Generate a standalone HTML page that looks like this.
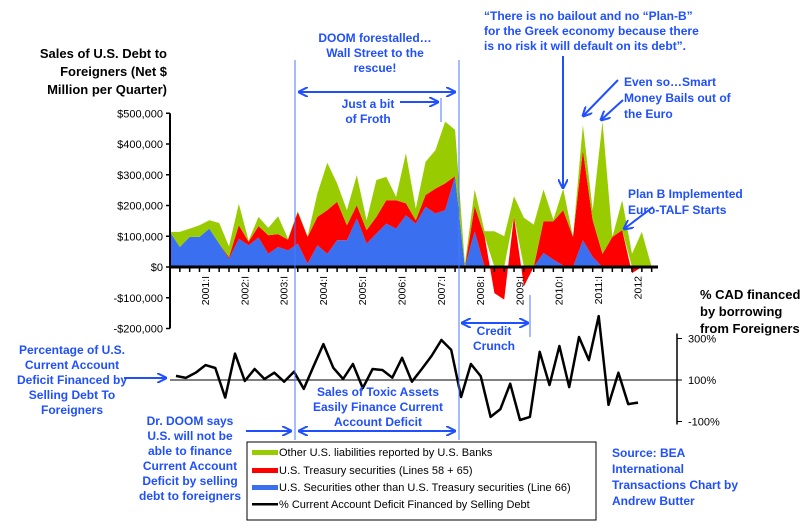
<!DOCTYPE html>
<html><head><meta charset="utf-8"><style>
body{margin:0;background:#fff}
svg{display:block;font-family:"Liberation Sans",Arial,sans-serif}
.an{fill:#1f4fff;font-weight:bold;font-size:12px}
.bk{fill:#000;font-weight:bold;font-size:13px}
.tk{font-size:11px;fill:#000}
</style></head><body>
<svg id="c" width="800" height="531" viewBox="0 0 800 531">
<defs>
<marker id="ah" viewBox="0 0 10 10" refX="9" refY="5" markerWidth="5" markerHeight="5" orient="auto-start-reverse"><path d="M0,0L10,5L0,10" fill="none" stroke="#1f4fff" stroke-width="2"/></marker>
</defs>
<g id="areas"></g>
<g id="axes"></g>
<g id="ann">
<line x1="295" y1="60" x2="295" y2="440" stroke="#4a78ff" stroke-width="1"/>
<line x1="459" y1="60" x2="459" y2="440" stroke="#4a78ff" stroke-width="1"/>
<line x1="530" y1="295" x2="530" y2="337" stroke="#4a78ff" stroke-width="1"/>
<line x1="441" y1="98" x2="441" y2="122" stroke="#4a78ff" stroke-width="1"/>
<text class="an" text-anchor="middle"><tspan x="375" y="42">DOOM forestalled…</tspan><tspan x="375" y="57">Wall Street to the</tspan><tspan x="375" y="72">rescue!</tspan></text>
<line x1="299" y1="92" x2="455" y2="92" stroke="#1f4fff" stroke-width="2" marker-start="url(#ah)" marker-end="url(#ah)"/>
<text class="an" text-anchor="middle"><tspan x="368" y="108">Just a bit</tspan><tspan x="368" y="123">of Froth</tspan></text>
<line x1="400" y1="102" x2="438" y2="102" stroke="#1f4fff" stroke-width="2" marker-end="url(#ah)"/>
<text class="an" font-size="11"><tspan x="484" y="20">“There is no bailout and no “Plan-B”</tspan><tspan x="484" y="35">for the Greek economy because there</tspan><tspan x="484" y="50">is no risk it will default on its debt”.</tspan></text>
<line x1="563" y1="56" x2="563" y2="188" stroke="#1f4fff" stroke-width="2" marker-end="url(#ah)"/>
<text class="an"><tspan x="624" y="86">Even so…Smart</tspan><tspan x="624" y="102">Money Bails out of</tspan><tspan x="624" y="118">the Euro</tspan></text>
<line x1="618" y1="80" x2="583" y2="116" stroke="#1f4fff" stroke-width="2" marker-end="url(#ah)"/>
<line x1="623" y1="100" x2="601" y2="120" stroke="#1f4fff" stroke-width="2" marker-end="url(#ah)"/>
<text class="an"><tspan x="628" y="198">Plan B Implemented</tspan><tspan x="628" y="214">Euro-TALF Starts</tspan></text>
<line x1="653" y1="207" x2="624" y2="229" stroke="#1f4fff" stroke-width="2" marker-end="url(#ah)"/>
<text class="an" text-anchor="middle"><tspan x="494" y="335">Credit</tspan><tspan x="494" y="350">Crunch</tspan></text>
<line x1="462" y1="323" x2="528" y2="323" stroke="#1f4fff" stroke-width="2" marker-start="url(#ah)" marker-end="url(#ah)"/>
<text class="an" text-anchor="middle"><tspan x="378" y="396">Sales of Toxic Assets</tspan><tspan x="378" y="411">Easily Finance Current</tspan><tspan x="378" y="426">Account Deficit</tspan></text>
<line x1="299" y1="431" x2="455" y2="431" stroke="#1f4fff" stroke-width="2" marker-start="url(#ah)" marker-end="url(#ah)"/>
<text class="an" text-anchor="middle"><tspan x="190" y="425">Dr. DOOM says</tspan><tspan x="190" y="440">U.S. will not be</tspan><tspan x="190" y="455">able to finance</tspan><tspan x="190" y="470">Current Account</tspan><tspan x="190" y="485">Deficit by selling</tspan><tspan x="190" y="500">debt to foreigners</tspan></text>
<line x1="246" y1="431" x2="291" y2="431" stroke="#1f4fff" stroke-width="2" marker-end="url(#ah)"/>
<text class="an" text-anchor="middle"><tspan x="72" y="354">Percentage of U.S.</tspan><tspan x="72" y="369">Current Account</tspan><tspan x="72" y="384">Deficit Financed by</tspan><tspan x="72" y="399">Selling Debt To</tspan><tspan x="72" y="414">Foreigners</tspan></text>
<line x1="124" y1="378" x2="166" y2="378" stroke="#1f4fff" stroke-width="2" marker-end="url(#ah)"/>
<text class="an" font-size="13"><tspan x="612" y="457">Source: BEA</tspan><tspan x="612" y="473">International</tspan><tspan x="612" y="489">Transactions Chart by</tspan><tspan x="612" y="505">Andrew Butter</tspan></text>
<text class="bk" text-anchor="end"><tspan x="167" y="58">Sales of U.S. Debt to</tspan><tspan x="167" y="76">Foreigners (Net $</tspan><tspan x="167" y="94">Million per Quarter)</tspan></text>
<text class="bk"><tspan x="700" y="299">% CAD financed</tspan><tspan x="700" y="316">by borrowing</tspan><tspan x="700" y="333">from Foreigners</tspan></text>
</g>
<g>
<rect x="247" y="442" width="349" height="78" fill="#fff" stroke="#000" stroke-width="1"/>
<rect x="252" y="450" width="26" height="5" fill="#99cc00"/>
<text x="279" y="456" class="tk">Other U.S. liabilities reported by U.S. Banks</text>
<rect x="252" y="468" width="26" height="5" fill="#ff0000"/>
<text x="279" y="474" class="tk">U.S. Treasury securities (Lines 58 + 65)</text>
<rect x="252" y="485" width="26" height="5" fill="#3a6ff0"/>
<text x="279" y="491" class="tk">U.S. Securities other than U.S. Treasury securities (Line 66)</text>
<rect x="252" y="503" width="26" height="2.5" fill="#000"/>
<text x="279" y="508" class="tk">% Current Account Deficit Financed by Selling Debt</text>
</g>
</svg>
<script>
const blueVals=[114,65,98,98,125,76,27,92,71,96,43,65,54,76,11,71,43,87,87,158,76,109,141,125,168,141,196,174,185,296,0,116,0,0,0,0,0,0,46,24,5,0,87,33,0,0,0,0,0,0];
const redVals=[0,0,0,0,0,0,5,44,11,37,60,42,35,103,87,92,142,125,49,43,44,54,76,92,39,11,38,81,87,0,0,82,100,-85,-106,165,-63,0,103,125,180,98,293,119,43,98,120,-20,0,0];
const greenVals=[0,49,27,38,27,67,35,70,4,30,24,58,3,2,2,76,154,60,49,98,32,120,76,11,163,38,108,125,201,150,10,54,16,116,100,65,160,138,103,5,70,0,82,33,430,0,97,43,114,0];
const pctVals=[120,110,135,172,158,15,227,95,153,105,135,92,140,57,167,273,159,105,177,61,153,148,111,207,92,153,216,293,245,18,177,119,-78,-40,82,-93,-78,236,76,264,66,307,196,408,-20,135,-16,-9];
const yTicks=[500000,400000,300000,200000,100000,0,-100000,-200000];
const yearLabels=["2001:I","2002:I","2003:I","2004:I","2005:I","2006:I","2007:I","2008:I","2009:I","2010:I","2011:I","2012"];
const pctTicks=[300,100,-100];
const NS="http://www.w3.org/2000/svg";
const X=i=>170+i*9.83, Y=v=>267-v*0.3075, LX=i=>176+i*9.83, PY=p=>380-(p-100)*0.2075;
function mk(t,a,parent){const e=document.createElementNS(NS,t);for(const k in a)e.setAttribute(k,a[k]);parent.appendChild(e);return e;}
const areas=document.getElementById('areas'), axes=document.getElementById('axes');
const n=blueVals.length;let pos=new Array(n).fill(0),neg=new Array(n).fill(0);
[[blueVals,'#3a6ff0','area-us-securities'],[redVals,'#ff0000','area-treasury'],[greenVals,'#99cc00','area-other-liabilities']].forEach(([vals,col,name])=>{
  const lo=[],hi=[];
  for(let i=0;i<n;i++){const v=vals[i];if(v>=0){lo.push(pos[i]);pos[i]+=v;hi.push(pos[i]);}else{lo.push(neg[i]);neg[i]+=v;hi.push(neg[i]);}}
  let d='';for(let i=0;i<n;i++)d+=(i?'L':'M')+X(i).toFixed(1)+','+Y(hi[i]).toFixed(1);
  for(let i=n-1;i>=0;i--)d+='L'+X(i).toFixed(1)+','+Y(lo[i]).toFixed(1);
  const p=mk('path',{d:d+'Z',fill:col},areas);
  
  
});
mk('line',{x1:170,y1:Y(500),x2:170,y2:Y(-200),stroke:'#000','stroke-width':2},axes);
yTicks.forEach(t=>{const y=Y(t/1000);mk('line',{x1:166,y1:y,x2:170,y2:y,stroke:'#000','stroke-width':1.5},axes);
  const tx=mk('text',{x:163,y:y+4,'text-anchor':'end','font-size':11},axes);
  tx.textContent=(t<0?'-$':'$')+Math.abs(t).toLocaleString('en-US');
  
  });
mk('line',{x1:170,y1:Y(0),x2:658,y2:Y(0),stroke:'#000','stroke-width':3},axes);
for(let i=0;i<=49;i++)mk('line',{x1:X(i),y1:Y(0),x2:X(i),y2:Y(0)+5,stroke:'#000','stroke-width':1.5},axes);
yearLabels.forEach((l,k)=>{const x=205+k*39.3;const t=mk('text',{x:0,y:0,'text-anchor':'end','font-size':10.5,transform:`translate(${x+4},276) rotate(-90)`},axes);t.textContent=l;
  
  });
mk('line',{x1:170,y1:PY(100),x2:677,y2:PY(100),stroke:'#000','stroke-width':1},axes);
mk('line',{x1:677,y1:PY(300)-5,x2:677,y2:PY(-100)+3,stroke:'#000','stroke-width':1.5},axes);
pctTicks.forEach(p=>{const y=PY(p);mk('line',{x1:677,y1:y,x2:682,y2:y,stroke:'#000'},axes);
  const t=mk('text',{x:688,y:y+4,'font-size':11},axes);t.textContent=p+'%';
  
  });
const ln=mk('polyline',{points:pctVals.map((v,i)=>LX(i).toFixed(1)+','+PY(v).toFixed(1)).join(' '),fill:'none',stroke:'#000','stroke-width':2.5,'stroke-linejoin':'round'},axes);


</script>
</body></html>
